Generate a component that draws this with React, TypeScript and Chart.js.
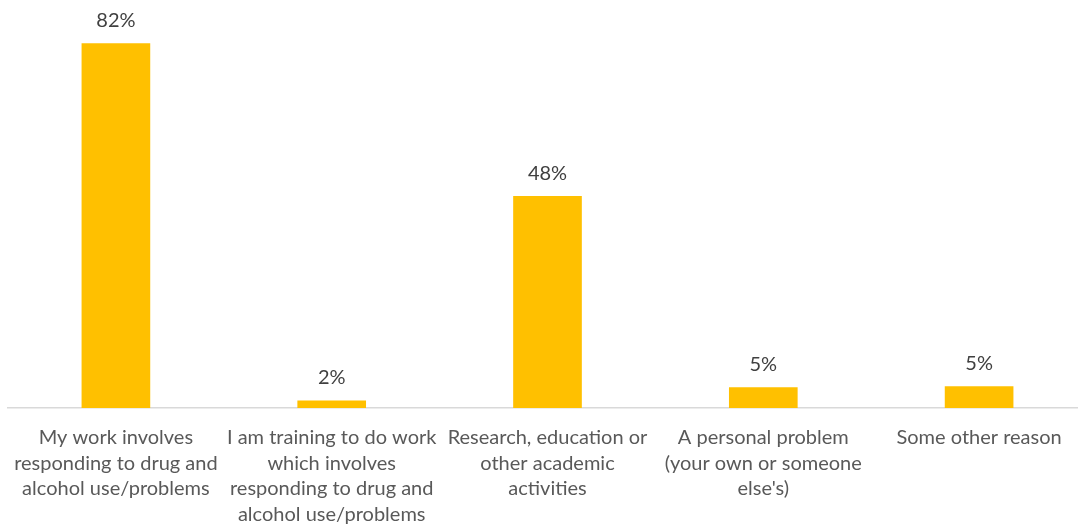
import React, { useEffect, useRef } from "react";
import { Chart, registerables } from "chart.js";

Chart.register(...registerables);

const categories: string[][] = [
  ["My work involves", "responding to drug and", "alcohol use/problems"],
  ["I am training to do work", "which involves", "responding to drug and", "alcohol use/problems"],
  ["Research, education or", "other academic", "activities"],
  ["A personal problem", "(your own or someone", "else's)"],
  ["Some other reason"],
];

const percentages: number[] = [82, 1.6, 47.6, 4.6, 4.8];

const FONT = "Lato, 'Open Sans', sans-serif";

const valueLabels = {
  id: "valueLabels",
  afterDatasetsDraw(chart: any) {
    const ctx = chart.ctx;
    const meta = chart.getDatasetMeta(0);
    ctx.save();
    ctx.font = `20px ${FONT}`;
    ctx.fillStyle = "#404040";
    ctx.textAlign = "center";
    ctx.textBaseline = "middle";
    meta.data.forEach((bar: any, i: number) => {
      const v = chart.data.datasets[0].data[i] as number;
      ctx.fillText(`${Math.round(v)}%`, bar.x, bar.y - 23);
    });
    ctx.restore();
  },
};

export default function App() {
  const ref = useRef<HTMLCanvasElement>(null);
  useEffect(() => {
    if (!ref.current) return;
    const chart = new Chart(ref.current, {
      type: "bar",
      data: {
        labels: categories,
        datasets: [
          {
            data: percentages,
            backgroundColor: "#FFC000",
            barThickness: 68,
          },
        ],
      },
      options: {
        animation: false,
        responsive: false,
        maintainAspectRatio: false,
        layout: { padding: { left: 8, right: 8, top: 8, bottom: 0 } },
        plugins: { legend: { display: false }, tooltip: { enabled: false } },
        scales: {
          y: { display: false, min: 0, max: 90 },
          x: {
            afterFit: (scale: any) => {
              scale.height = 117;
              scale.paddingLeft = 0;
              scale.paddingRight = 0;
            },
            grid: { display: false, drawTicks: false },
            border: { display: true, color: "#D9D9D9", width: 1.5 },
            ticks: {
              color: "#595959",
              padding: 17,
              maxRotation: 0,
              autoSkip: false,
              font: { family: FONT, size: 20, lineHeight: 1.28 },
            },
          },
        },
      },
      plugins: [valueLabels],
    });
    return () => chart.destroy();
  }, []);
  return (
    <div
      style={{
        position: "fixed",
        left: 0,
        top: 0,
        width: 1078,
        height: 525,
        overflow: "hidden",
        background: "#fff",
      }}
    >
      <canvas
        ref={ref}
        width={1095}
        height={525}
        style={{ position: "absolute", left: 0, top: 0, width: 1095, height: 525 }}
      />
    </div>
  );
}
